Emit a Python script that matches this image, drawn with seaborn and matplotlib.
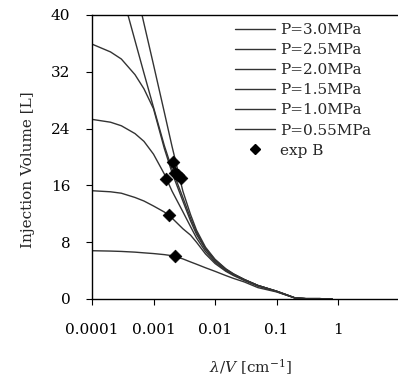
import numpy as np
import pandas as pd
import matplotlib
matplotlib.use("Agg")
import matplotlib.pyplot as plt
import seaborn as sns

# lambda/V grid [cm^-1]
lam_v = [1e-4, 2e-4, 3e-4, 5e-4, 7e-4, 1e-3, 1.5e-3, 2e-3, 3e-3, 4e-3, 5e-3, 7e-3,
         1e-2, 1.5e-2, 2e-2, 3e-2, 5e-2, 0.1, 0.15, 0.2, 0.3, 0.5, 0.8]

nan = np.nan
p_300 = [nan, nan, nan, 44.3, 38.8, 33.0, 26.3, 21.5, 15.2, 11.9, 9.7, 7.3,
         5.6, 4.25, 3.55, 2.75, 1.9, 1.1, 0.55, 0.15, 0.05, 0.05, 0.0]
p_250 = [nan, nan, 43.4, 36.4, 31.8, 27.0, 21.6, 18.3, 14.3, 11.4, 9.4, 7.1,
         5.5, 4.2, 3.5, 2.75, 1.9, 1.1, 0.55, 0.15, 0.05, 0.05, 0.0]
p_200 = [35.9, 34.8, 33.8, 31.6, 29.6, 26.8, 21.2, 17.8, 13.8, 11.0, 9.1, 7.0,
         5.4, 4.1, 3.45, 2.7, 1.9, 1.1, 0.55, 0.15, 0.05, 0.05, 0.0]
p_150 = [25.3, 24.9, 24.4, 23.3, 22.2, 20.4, 17.6, 15.2, 12.3, 10.2, 8.6, 6.7,
         5.2, 4.0, 3.4, 2.7, 1.9, 1.1, 0.55, 0.15, 0.05, 0.05, 0.0]
p_100 = [15.25, 15.1, 14.9, 14.3, 13.8, 13.1, 12.25, 11.4, 9.9, 9.0, 8.0, 6.35,
         5.0, 3.9, 3.3, 2.6, 1.8, 1.05, 0.5, 0.15, 0.05, 0.05, 0.0]
p_055 = [6.8, 6.75, 6.7, 6.6, 6.5, 6.4, 6.25, 6.1, 5.65, 5.22, 4.9, 4.4,
         3.9, 3.3, 2.9, 2.4, 1.6, 1.0, 0.5, 0.15, 0.05, 0.05, 0.0]

series = {
    "P=3.0MPa": p_300,
    "P=2.5MPa": p_250,
    "P=2.0MPa": p_200,
    "P=1.5MPa": p_150,
    "P=1.0MPa": p_100,
    "P=0.55MPa": p_055,
}

# experimental points
exp_x = [1.6e-3, 2.1e-3, 2.25e-3, 2.5e-3, 2.85e-3, 1.77e-3, 2.24e-3]
exp_y = [16.9, 19.3, 17.7, 17.4, 17.0, 11.9, 6.0]

x_ticks = [1e-4, 1e-3, 1e-2, 1e-1, 1]
x_labels = ["0.0001", "0.001", "0.01", "0.1", "1"]
y_ticks = [0, 8, 16, 24, 32, 40]

sns.set_style("ticks")
plt.rcParams["font.family"] = ["DejaVu Serif"]
plt.rcParams["mathtext.fontset"] = "dejavuserif"

fig = plt.figure(figsize=(3.98, 3.82), dpi=100)
ax = fig.add_axes([92 / 398, 83 / 382, 307.5 / 398, 284 / 382])

rows = []
for name, vals in series.items():
    for xv, yv in zip(lam_v, vals):
        rows.append({"x": xv, "y": yv, "P": name})
df = pd.DataFrame(rows)

palette = {name: "#333333" for name in series}
sns.lineplot(data=df, x="x", y="y", hue="P", hue_order=list(series.keys()),
             palette=palette, linewidth=1.0, ax=ax, legend=False, sort=False)

sns.scatterplot(x=exp_x, y=exp_y, marker="D", color="black", s=42,
                edgecolor="black", linewidth=0.5, ax=ax, zorder=5)

ax.set_xscale("log")
ax.set_xlim(1e-4, 10)
ax.set_ylim(0, 40)
ax.set_xticks(x_ticks)
ax.set_xticklabels(x_labels)
ax.minorticks_off()
ax.set_yticks(y_ticks)
ax.tick_params(labelsize=11, length=4.5, width=0.8, colors="black")
ax.tick_params(axis="x", pad=13)
ax.tick_params(axis="y", pad=11)

for s in ["left", "top", "bottom"]:
    ax.spines[s].set_color("black")
    ax.spines[s].set_linewidth(1.0)
ax.spines["right"].set_visible(False)

ax.set_ylabel("Injection Volume [L]", fontsize=11)
ax.yaxis.set_label_coords((35 - 92) / 307.5, (299 - 170) / 284)
ax.set_xlabel(r"$\lambda/V$ [cm$^{\mathregular{-1}}$]", fontsize=11)
ax.xaxis.set_label_coords((251 - 92) / 307.5, (299 - 357) / 284)

handles = [plt.Line2D([], [], color="#333333", lw=1.0) for _ in series]
handles.append(plt.Line2D([], [], color="black", marker="D", ls="", ms=5))
labels = list(series.keys()) + ["exp B"]
ax.legend(handles, labels, loc="upper left", bbox_to_anchor=(235 / 398, 1 - 23 / 382),
          bbox_transform=fig.transFigure, frameon=False, fontsize=11,
          handlelength=2.6, handletextpad=0.35, labelspacing=0.4,
          borderaxespad=0, borderpad=0)

fig.savefig("out.png", dpi=100)
